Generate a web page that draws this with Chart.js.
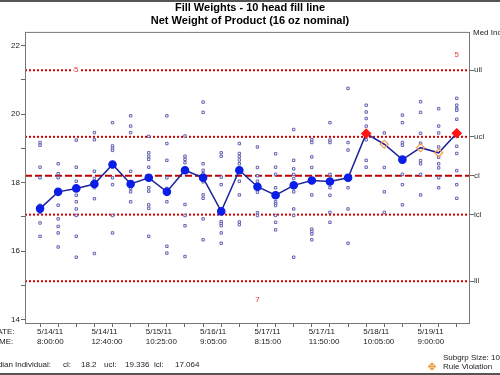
<!DOCTYPE html>
<html>
<head>
<meta charset="utf-8">
<script src="https://cdn.jsdelivr.net/npm/chart.js@4.4.1/dist/chart.umd.min.js"></script>
<style>
  html, body { margin: 0; padding: 0; background: #fff; }
  #wrap { width: 500px; height: 375px; }
</style>
</head>
<body>
<div id="wrap"><canvas id="myChart" width="500" height="375"></canvas></div>
<script>
// median of each subgroup (blue line)
const medians = [17.24, 17.73, 17.83, 17.96, 18.53, 17.96, 18.14, 17.73, 18.36, 18.14, 17.16, 18.36,
                 17.88, 17.63, 17.92, 18.06, 18.03, 18.14, 19.43, 19.12, 18.67, 19.02, 18.87, 19.44];

// individual readings per subgroup (small squares)
const readings = [
  [19.17, 19.09, 18.45, 18.14, 17.34, 17.13, 16.82, 16.43],
  [18.55, 18.26, 18.14, 17.34, 16.94, 16.72, 16.53, 16.12],
  [19.24, 18.45, 18.04, 17.63, 17.44, 17.23, 17.04, 16.43, 15.82],
  [19.46, 19.25, 18.33, 18.12, 17.85, 17.53, 15.93],
  [19.75, 19.07, 19.0, 18.94, 18.14, 17.94, 17.04, 16.53],
  [19.95, 19.65, 19.46, 18.33, 17.9, 17.83, 17.73, 17.44],
  [19.35, 18.87, 18.77, 18.68, 18.45, 17.85, 17.75, 17.35, 17.25, 16.43],
  [19.95, 19.14, 18.65, 18.14, 17.83, 17.44, 16.14, 15.94],
  [19.36, 18.77, 18.68, 18.58, 17.36, 17.04, 16.74, 15.84],
  [20.35, 20.05, 18.55, 18.36, 18.26, 18.02, 17.64, 17.54, 16.94, 16.33],
  [18.87, 18.77, 18.16, 17.94, 16.86, 16.8, 16.74, 16.53, 16.23],
  [19.14, 18.85, 18.76, 18.66, 18.55, 18.04, 17.64, 16.85, 16.77],
  [19.04, 18.44, 18.2, 18.04, 17.72, 17.12, 17.04],
  [18.84, 18.45, 18.24, 17.85, 17.44, 17.38, 17.33, 17.04, 16.84, 16.62],
  [19.55, 18.65, 18.4, 18.24, 18.12, 17.73, 17.23, 17.04, 15.82],
  [19.25, 19.17, 18.75, 18.44, 17.64, 16.64, 16.57, 16.5, 16.33],
  [19.75, 19.24, 19.17, 18.24, 17.85, 17.63, 17.13, 16.84],
  [20.75, 19.17, 18.95, 17.85, 17.23, 16.23],
  [20.26, 20.06, 19.87, 19.65, 19.25, 18.65, 18.45],
  [19.45, 18.44, 17.73, 17.13],
  [19.97, 19.75, 19.17, 19.09, 18.24, 17.94, 17.35],
  [20.36, 20.05, 19.44, 19.15, 18.64, 18.55, 18.24, 17.64],
  [20.16, 19.65, 19.45, 19.04, 18.74, 18.55, 18.43, 18.14, 17.85],
  [20.46, 20.26, 20.16, 20.11, 19.85, 19.06, 18.85, 18.35, 17.94, 17.54]
];

// x tick labels (every 3rd subgroup)
const dates = ['5/14/11', '5/14/11', '5/15/11', '5/16/11', '5/17/11', '5/17/11', '5/18/11', '5/19/11'];
const times = ['8:00:00', '12:40:00', '10:25:00', '9:05:00', '8:15:00', '11:50:00', '10:05:00', '9:00:00'];

// control limits
const limitNames = ['uil', 'ucl', 'cl', 'lcl', 'lil'];
const limitValues = [21.28, 19.336, 18.2, 17.064, 15.12];

const yTicks = [14, 15, 16, 17, 18, 19, 20, 21, 22];

// subgroups flagged by a run rule (orange marker)
const violations = [19, 21, 22];

// red rule numbers written on the chart
const ruleIdx = [2, 23, 12];
const ruleVal = [21.28, 21.73, 14.57];
const ruleText = ['5', '5', '7'];

const xMin = -0.83, xMax = 23.73;
const yMin = 13.9, yMax = 22.4;
const ucl = limitValues[1];

Chart.defaults.font.family = 'Arial, "Liberation Sans", sans-serif';
Chart.defaults.color = '#222';

// limit lines as datasets
const limitStyles = {
  uil: { dash: [2, 2], color: '#d40000' },
  ucl: { dash: [2, 2], color: '#d40000' },
  cl:  { dash: [7, 3], color: '#c00000' },
  lcl: { dash: [2, 2], color: '#d40000' },
  lil: { dash: [2, 2], color: '#d40000' }
};
const limitSets = limitNames.map((n, k) => ({
  type: 'line',
  label: n,
  data: [{ x: xMin, y: limitValues[k] }, { x: xMax, y: limitValues[k] }],
  borderColor: limitStyles[n].color,
  borderWidth: 2,
  borderDash: limitStyles[n].dash,
  pointRadius: 0,
  order: 3
}));

// extra texts and frame
const extras = {
  id: 'extras',
  afterDraw(chart) {
    const ctx = chart.ctx;
    const a = chart.chartArea;
    const xs = chart.scales.x, ys = chart.scales.y;
    ctx.save();

    // plot frame
    ctx.strokeStyle = '#777';
    ctx.lineWidth = 1;
    ctx.strokeRect(a.left + 0.5, a.top + 0.5, a.right - a.left - 1, a.bottom - a.top);

    // outer lines
    ctx.strokeStyle = '#555';
    ctx.lineWidth = 2;
    ctx.beginPath();
    ctx.moveTo(0, 1); ctx.lineTo(500, 1);
    ctx.moveTo(0, 374); ctx.lineTo(500, 374);
    ctx.stroke();

    ctx.font = '8px Arial, "Liberation Sans", sans-serif';
    ctx.fillStyle = '#222';
    ctx.textBaseline = 'middle';
    ctx.textAlign = 'left';
    ctx.fillText('Med Individual', 473, 33);
    ctx.fillText('DATE:', -8.5, 332);
    ctx.fillText('TIME:', -8, 341.5);

    const stats = [['Individual:', 15], ['cl:', 63], ['18.2', 81], ['ucl:', 104],
                   ['19.336', 125], ['lcl:', 154], ['17.064', 175]];
    stats.forEach(s => ctx.fillText(s[0], s[1], 365));
    ctx.textAlign = 'right';
    ctx.fillText('Median', 13, 365);
    ctx.textAlign = 'left';

    ctx.fillText('Subgrp Size: 10', 443, 358);
    ctx.fillText('Rule Violation', 443, 367);

    // legend marker
    ctx.strokeStyle = '#f0a040';
    ctx.lineWidth = 1.2;
    const mx = 432, my = 366.5;
    ctx.beginPath();
    ctx.moveTo(mx - 3.5, my); ctx.lineTo(mx, my - 3.5); ctx.lineTo(mx + 3.5, my); ctx.lineTo(mx, my + 3.5); ctx.closePath();
    ctx.moveTo(mx - 3.5, my); ctx.lineTo(mx + 3.5, my);
    ctx.moveTo(mx, my - 3.5); ctx.lineTo(mx, my + 3.5);
    ctx.stroke();

    // rule numbers
    ctx.textAlign = 'center';
    for (let k = 0; k < ruleIdx.length; k++) {
      const px = xs.getPixelForValue(ruleIdx[k]);
      const py = ys.getPixelForValue(ruleVal[k]);
      ctx.fillStyle = '#fff';
      ctx.fillRect(px - 3, py - 3, 6, 6);
      ctx.fillStyle = '#e03a3a';
      ctx.fillText(ruleText[k], px, py);
    }
    ctx.restore();
  }
};

const ctx = document.getElementById('myChart');

new Chart(ctx, {
  data: {
    datasets: [
      {
        type: 'line',
        label: 'median',
        data: medians.map((v, i) => ({ x: i, y: v })),
        borderColor: '#1c2299',
        borderWidth: 1.5,
        pointStyle: medians.map((v, i) => (v > ucl || violations.includes(i)) ? 'rectRot' : 'circle'),
        pointRadius: medians.map((v, i) => v > ucl ? 4.5 : violations.includes(i) ? 4 : 3.7),
        pointBackgroundColor: medians.map((v, i) => v > ucl ? '#ff1414' : violations.includes(i) ? 'rgba(0,0,0,0)' : '#0a1ee8'),
        pointBorderColor: medians.map((v, i) => v > ucl ? '#ff1414' : violations.includes(i) ? '#f0a050' : '#0a1ee8'),
        pointBorderWidth: 1.2,
        order: 0
      },
      {
        type: 'scatter',
        label: 'readings',
        data: readings.flatMap((arr, i) => arr.map(v => ({ x: i, y: v }))),
        pointStyle: 'rect',
        pointRadius: 1.7,
        borderWidth: 1,
        borderColor: '#6464b4',
        backgroundColor: '#fff',
        order: 2
      },
      ...limitSets
    ]
  },
  plugins: [extras],
  options: {
    responsive: false,
    animation: false,
    devicePixelRatio: 1,
    layout: { padding: 0 },
    plugins: {
      legend: { display: false },
      tooltip: { enabled: false },
      title: {
        display: true,
        text: ['Fill Weights - 10 head fill line', 'Net Weight of Product (16 oz nominal)'],
        color: '#000',
        font: { size: 11, weight: 'bold' },
        lineHeight: 1.25,
        padding: { top: 1, bottom: 4.5 }
      }
    },
    scales: {
      x: {
        type: 'linear',
        min: xMin,
        max: xMax,
        afterBuildTicks: s => { s.ticks = medians.map((v, i) => ({ value: i })); },
        afterFit: s => { s.height = 52; },
        ticks: {
          autoSkip: false,
          maxRotation: 0,
          align: 'start',
          labelOffset: -3,
          padding: 0,
          font: { size: 8, lineHeight: 1.2 },
          color: '#222',
          callback: v => v % 3 === 0 ? [dates[v / 3], times[v / 3]] : ''
        },
        grid: { drawOnChartArea: false, tickLength: 4, color: '#666' },
        border: { display: false }
      },
      y: {
        type: 'linear',
        position: 'left',
        min: yMin,
        max: yMax,
        afterBuildTicks: s => { s.ticks = yTicks.map(v => ({ value: v })); },
        afterFit: s => { s.width = 25; },
        ticks: {
          padding: 1,
          font: { size: 8 },
          color: '#222',
          callback: v => v % 2 === 0 ? v : ''
        },
        grid: { drawOnChartArea: false, tickLength: 4, color: '#666' },
        border: { display: false }
      },
      y2: {
        type: 'linear',
        position: 'right',
        min: yMin,
        max: yMax,
        afterBuildTicks: s => { s.ticks = limitValues.map(v => ({ value: v })); },
        afterFit: s => { s.width = 30; },
        ticks: {
          padding: 0,
          font: { size: 8 },
          color: '#333',
          callback: v => limitNames[limitValues.indexOf(v)]
        },
        grid: { drawOnChartArea: false, tickLength: 4, color: '#666' },
        border: { display: false }
      }
    }
  }
});
</script>
</body>
</html>
